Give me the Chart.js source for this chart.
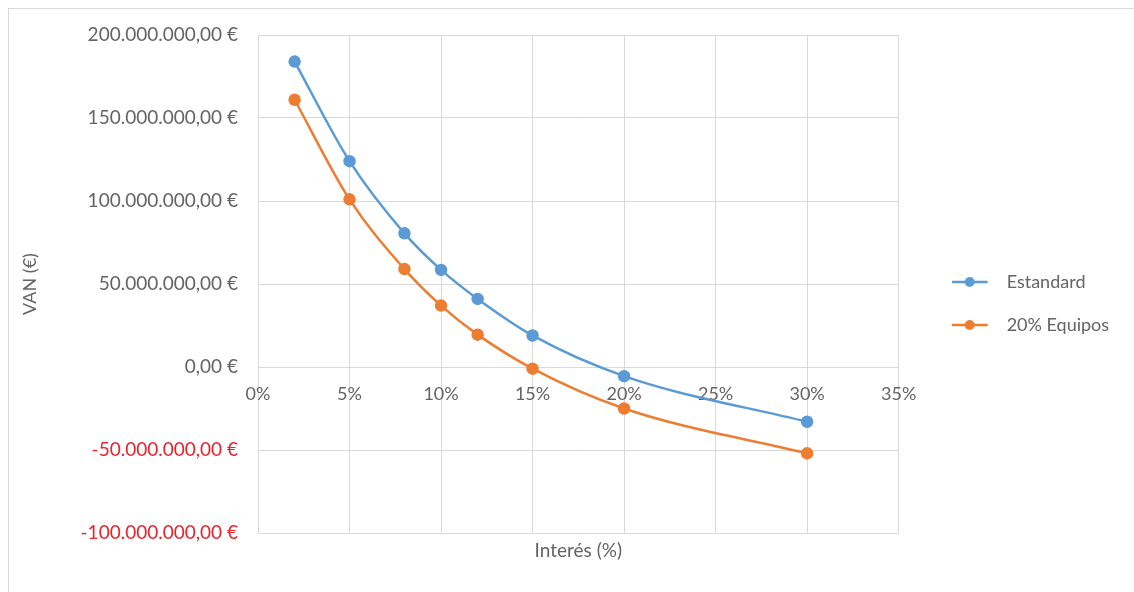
<!DOCTYPE html>
<html>
<head>
<meta charset="utf-8">
<script src="https://cdn.jsdelivr.net/npm/chart.js@4/dist/chart.umd.min.js"></script>
<style>
  html, body { margin:0; padding:0; background:#fff; }
  .frame { position:absolute; left:8px; top:8px; width:1140px; height:600px; border-left:1px solid #d9d9d9; border-top:1px solid #d9d9d9; }
  .wrap { position:absolute; left:0; top:0; width:1134px; height:592px; }
</style>
</head>
<body>
<div class="frame"></div>
<div class="wrap"><canvas id="chart"></canvas></div>
<script>
/* ── DATA ── */
const interes   = [2, 5, 8, 10, 12, 15, 20, 30];             // %
const estandard = [184, 124, 80.5, 58.5, 41, 19, -5.5, -33]; // millones €
const equipos   = [161, 101, 59, 37, 19.5, -1, -25, -52];    // millones €
const seriesNames = ["Estandard", "20% Equipos"];

const BLUE = "#5b9bd5", ORANGE = "#ed7d31", GREY = "#646464", RED = "#e8242f";
const FONT = "Lato";

function fmtEuro(v) {
  const n = Math.abs(v) * 1e6;
  const s = n.toFixed(0).replace(/\B(?=(\d{3})+(?!\d))/g, ".");
  return (v < 0 ? "-" : "") + s + ",00 €";
}

// line + dot legend marker (line 0..36, extra room for text gap)
function legendMark(color) {
  const c = document.createElement("canvas");
  c.width = 46; c.height = 12;
  const g = c.getContext("2d");
  g.strokeStyle = color; g.lineWidth = 2.5;
  g.beginPath(); g.moveTo(0, 6); g.lineTo(36, 6); g.stroke();
  g.fillStyle = color;
  g.beginPath(); g.arc(18, 6, 5, 0, Math.PI * 2); g.fill();
  return c;
}

const toPts = arr => arr.map((v, i) => ({ x: interes[i], y: v }));

// nudge legend up a little (its box spans the full right column)
const legendNudge = { id: "legendNudge", afterLayout: chart => { if (chart.legend) chart.legend.bottom -= 20; } };

const ctx = document.getElementById("chart").getContext("2d");
new Chart(ctx, {
  type: "line",
  data: {
    datasets: [
      { label: seriesNames[0], data: toPts(estandard), borderColor: BLUE, backgroundColor: BLUE,
        borderWidth: 2.5, pointRadius: 5, pointHoverRadius: 5, cubicInterpolationMode: "monotone" },
      { label: seriesNames[1], data: toPts(equipos), borderColor: ORANGE, backgroundColor: ORANGE,
        borderWidth: 2.5, pointRadius: 5, pointHoverRadius: 5, cubicInterpolationMode: "monotone" }
    ]
  },
  plugins: [legendNudge],
  options: {
    responsive: true, maintainAspectRatio: false, animation: false,
    layout: { padding: { left: 10, top: 35, right: 24, bottom: 0 } },
    plugins: {
      tooltip: { enabled: false },
      legend: {
        position: "right", align: "center",
        labels: {
          usePointStyle: true, pointStyleWidth: 46, padding: 25, color: GREY,
          font: { family: FONT, size: 18 },
          generateLabels: chart => chart.data.datasets.map((d, i) => ({
            text: d.label, pointStyle: legendMark(d.borderColor), fillStyle: d.borderColor,
            strokeStyle: d.borderColor, lineWidth: 0, datasetIndex: i, fontColor: GREY
          }))
        }
      }
    },
    scales: {
      x: {
        type: "linear", min: 0, max: 35, position: { y: 0 },
        ticks: { stepSize: 5, color: GREY, font: { family: FONT, size: 18 }, padding: 16, callback: v => v + "%" },
        grid: { color: "#d9d9d9", drawTicks: false },
        border: { display: false }
      },
      x2: {
        type: "linear", min: 0, max: 35, position: "bottom",
        ticks: { display: false }, grid: { display: false, drawTicks: false }, border: { display: false },
        title: { display: true, text: "Interés (%)", color: GREY, font: { family: FONT, size: 19 }, padding: { top: 0, bottom: 30 } },
        afterFit: s => { s.height = 59; }
      },
      y2: {
        position: "right", display: true,
        ticks: { display: false }, grid: { display: false, drawTicks: false }, border: { display: false },
        afterFit: s => { s.width = 28; }
      },
      y: {
        min: -100, max: 200,
        ticks: { stepSize: 50, padding: 20, font: { family: FONT, size: 19 },
          color: c => c.tick && c.tick.value < 0 ? RED : GREY, callback: v => fmtEuro(v) },
        grid: { color: "#d9d9d9", drawTicks: false },
        border: { display: false },
        title: { display: true, text: "VAN (€)", color: GREY, font: { family: FONT, size: 18 }, padding: { top: 9, bottom: 0 } },
        afterFit: s => { s.width = 248; }
      }
    }
  }
});
</script>
</body>
</html>
